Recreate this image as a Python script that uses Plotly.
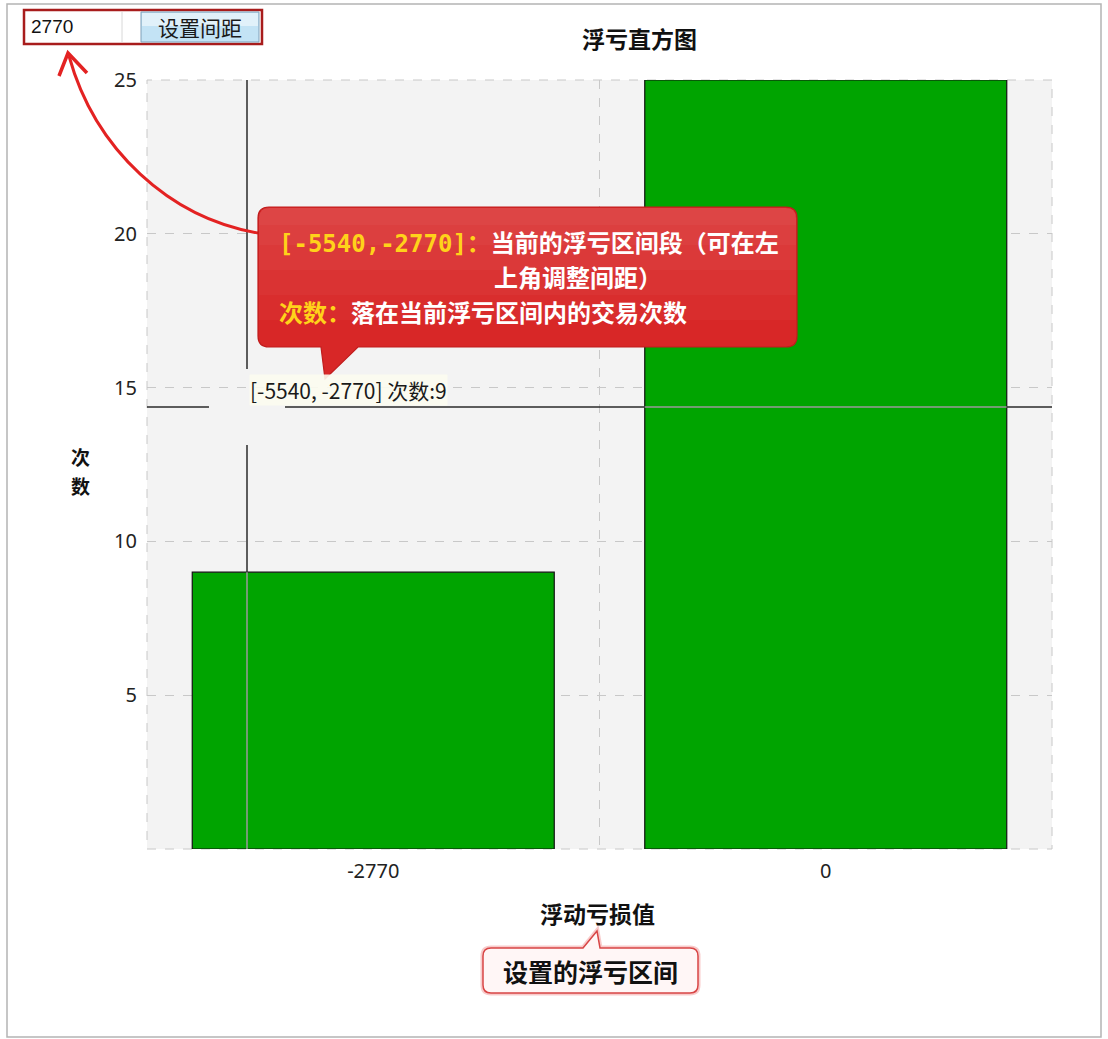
import plotly.graph_objects as go

# ---- data ----
categories = ["-2770", "0"]
counts = [9, 25]
y_tickvals = [0, 5, 10, 15, 20, 25]
y_ticktext = ["", "5", "10", "15", "20", "25"]
interval_step = "2770"
hover_interval = "[-5540, -2770]"
hover_count = 9
crosshair_x = -0.279   # in category units
crosshair_y = 14.37

W, H = 1108, 1039
L, R, T, B = 147, 56, 80, 190
PW, PH = W - L - R, H - T - B

CJK = "Noto Sans CJK SC"


def px(x):
    return (x - L) / PW


def py(y):
    return (H - B - y) / PH


def path_from(cmds):
    out = []
    for c in cmds:
        if c[0] in ("M", "L"):
            out.append(f"{c[0]} {px(c[1]):.5f},{py(c[2]):.5f}")
        elif c[0] == "Q":
            out.append(f"Q {px(c[1]):.5f},{py(c[2]):.5f} {px(c[3]):.5f},{py(c[4]):.5f}")
        elif c[0] == "C":
            out.append(f"C {px(c[1]):.5f},{py(c[2]):.5f} {px(c[3]):.5f},{py(c[4]):.5f} {px(c[5]):.5f},{py(c[6]):.5f}")
        elif c[0] == "Z":
            out.append("Z")
    return " ".join(out)


def rounded(x0, y0, x1, y1, r, tail_bottom=None, tail_top=None, r_bottom=None):
    rb = r if r_bottom is None else r_bottom
    cmds = [("M", x0 + r, y0)]
    if tail_top:
        for p in tail_top:
            cmds.append(("L",) + p)
    cmds += [("L", x1 - r, y0), ("Q", x1, y0, x1, y0 + r),
             ("L", x1, y1 - rb), ("Q", x1, y1, x1 - rb, y1)]
    if tail_bottom:
        for p in tail_bottom:
            cmds.append(("L",) + p)
    cmds += [("L", x0 + rb, y1), ("Q", x0, y1, x0, y1 - rb),
             ("L", x0, y0 + r), ("Q", x0, y0, x0 + r, y0), ("Z",)]
    return path_from(cmds)


fig = go.Figure()
fig.add_trace(go.Bar(
    x=categories, y=counts,
    marker=dict(color="#00a400", line=dict(color="#111111", width=1.2)),
    hoverinfo="skip",
))

shapes = []
# outer frame of the widget
shapes.append(dict(type="rect", xref="paper", yref="paper",
                   x0=px(7), x1=px(1101), y0=py(4), y1=py(1037),
                   line=dict(color="#b4b4b4", width=1.5), layer="below"))
# dashed plot frame
shapes.append(dict(type="rect", xref="paper", yref="paper", x0=0, x1=1, y0=0, y1=1,
                   line=dict(color="#c8c8c8", width=1, dash="dash"), layer="below"))

# crosshair (dark on background, grey over bars)
gx = 0.084
gy = 1.235
dark = dict(color="#2a2a2a", width=1.5)
grey = dict(color="#9a9a9a", width=1.5)
shapes += [
    dict(type="line", xref="x", yref="y", x0=crosshair_x, x1=crosshair_x, y0=crosshair_y + gy, y1=25, line=dark),
    dict(type="line", xref="x", yref="y", x0=crosshair_x, x1=crosshair_x, y0=counts[0], y1=crosshair_y - gy, line=dark),
    dict(type="line", xref="x", yref="y", x0=crosshair_x, x1=crosshair_x, y0=0, y1=counts[0], line=grey),
    dict(type="line", xref="x", yref="y", x0=-0.5, x1=crosshair_x - gx, y0=crosshair_y, y1=crosshair_y, line=dark),
    dict(type="line", xref="x", yref="y", x0=crosshair_x + gx, x1=0.6, y0=crosshair_y, y1=crosshair_y, line=dark),
    dict(type="line", xref="x", yref="y", x0=0.6, x1=1.4, y0=crosshair_y, y1=crosshair_y, line=grey),
    dict(type="line", xref="x", yref="y", x0=1.4, x1=1.5, y0=crosshair_y, y1=crosshair_y, line=dark),
]

# red curved arrow to the top-left control
arrow_red = "#e32222"
shapes.append(dict(type="path", xref="paper", yref="paper",
                   path=path_from([("M", 258, 233), ("C", 170, 218, 95, 150, 69, 56)]),
                   line=dict(color=arrow_red, width=3)))
shapes.append(dict(type="path", xref="paper", yref="paper",
                   path=path_from([("M", 59, 76), ("L", 68, 53), ("L", 87, 73)]),
                   line=dict(color=arrow_red, width=3.5)))

# red speech bubble (simulated vertical gradient)
shapes.append(dict(type="path", xref="paper", yref="paper",
                   path=rounded(258, 207, 797, 347, 11,
                                tail_bottom=[(358, 347), (325, 379), (321, 347)]),
                   fillcolor="#d82727", line=dict(color="#c01c1c", width=1.2)))
for yb, a in [(320, 0.03), (295, 0.03), (270, 0.03), (245, 0.03), (225, 0.03)]:
    shapes.append(dict(type="path", xref="paper", yref="paper",
                       path=rounded(259, 208, 796, yb, 10, r_bottom=0),
                       fillcolor=f"rgba(255,255,255,{a})", line=dict(width=0)))

# bottom speech bubble
bottom_bubble = rounded(483, 948, 698, 993, 8, tail_top=[(583, 948), (597, 931), (600, 948)])
shapes.append(dict(type="path", xref="paper", yref="paper", path=bottom_bubble,
                   fillcolor="#fff6f6", line=dict(color="rgba(240,140,140,0.45)", width=5)))
shapes.append(dict(type="path", xref="paper", yref="paper", path=bottom_bubble,
                   fillcolor="#fff6f6", line=dict(color="#d84646", width=1.5)))

# top-left input + button
shapes.append(dict(type="rect", xref="paper", yref="paper",
                   x0=px(24), x1=px(262), y0=py(10), y1=py(44),
                   fillcolor="white", line=dict(color="#a81c1c", width=2.5)))
shapes.append(dict(type="line", xref="paper", yref="paper",
                   x0=px(122), x1=px(122), y0=py(12), y1=py(42),
                   line=dict(color="#d8d8d8", width=1)))
shapes.append(dict(type="rect", xref="paper", yref="paper",
                   x0=px(141), x1=px(259), y0=py(12), y1=py(42),
                   fillcolor="#c3e3f5", line=dict(color="#7f9fb8", width=1)))
shapes.append(dict(type="rect", xref="paper", yref="paper",
                   x0=px(142), x1=px(258), y0=py(13), y1=py(26),
                   fillcolor="rgba(255,255,255,0.5)", line=dict(width=0)))

annotations = []


def ann(text, x, y, size, color="#111111", bold=False, xanchor="center", family=CJK, bg=None, pad=1):
    t = f"<b>{text}</b>" if bold else text
    d = dict(text=t, xref="paper", yref="paper", x=px(x), y=py(y), xanchor=xanchor,
             yanchor="middle", showarrow=False, borderpad=pad,
             font=dict(family=family, size=size, color=color))
    if bg:
        d["bgcolor"] = bg
    annotations.append(d)


ann("浮亏直方图", 639, 38, 23, bold=True)
ann("浮动亏损值", 597, 913, 23, bold=True)
ann("次", 80, 456, 19, bold=True, pad=0)
ann("数", 80, 485, 19, bold=True, pad=0)
ann("设置的浮亏区间", 590, 971, 25, bold=True)
ann(interval_step, 29, 27, 19, color="#111", xanchor="left", family="Liberation Sans")
ann("设置间距", 200, 27, 21, color="#1a1a1a")
ann(f"{hover_interval} 次数:{hover_count}", 249, 390, 21, color="#1a1a1a", xanchor="left",
    family="Noto Sans CJK SC", bg="rgba(252,252,240,0.9)", pad=0)

YEL = "#ffd21a"
MONO = "DejaVu Sans Mono"
ann(f"<span style='color:{YEL};font-family:{MONO}'>[-5540,-2770]</span>"
    f"<span style='color:{YEL}'>：</span>当前的浮亏区间段（可在左", 277, 241, 24,
    color="white", bold=True, xanchor="left")
ann("上角调整间距）", 492, 276, 24, color="white", bold=True, xanchor="left")
ann(f"<span style='color:{YEL}'>次数：</span>落在当前浮亏区间内的交易次数", 277, 311, 24,
    color="white", bold=True, xanchor="left")

fig.update_layout(
    width=W, height=H,
    margin=dict(l=L, r=R, t=T, b=B, pad=0),
    paper_bgcolor="white",
    plot_bgcolor="#f3f3f3",
    showlegend=False,
    bargap=0.2,
    shapes=shapes,
    annotations=annotations,
    xaxis=dict(type="category", tickson="boundaries", ticks="", showgrid=True,
               gridcolor="#c8c8c8", griddash="dash", gridwidth=1,
               tickfont=dict(family="Noto Sans", size=20, color="#222"),
               ticklabelstandoff=8, range=[-0.5, 1.5], zeroline=False, showline=False),
    yaxis=dict(range=[0, 25], tickvals=y_tickvals, ticktext=y_ticktext, ticks="",
               showgrid=True, gridcolor="#c8c8c8", griddash="dash", gridwidth=1,
               tickfont=dict(family="Noto Sans", size=20, color="#222"),
               ticklabelstandoff=9, zeroline=False, showline=False),
)

fig.write_html("out.html", config={"displayModeBar": False},
               post_script="document.body.style.margin='0';document.body.style.overflow='hidden';")
